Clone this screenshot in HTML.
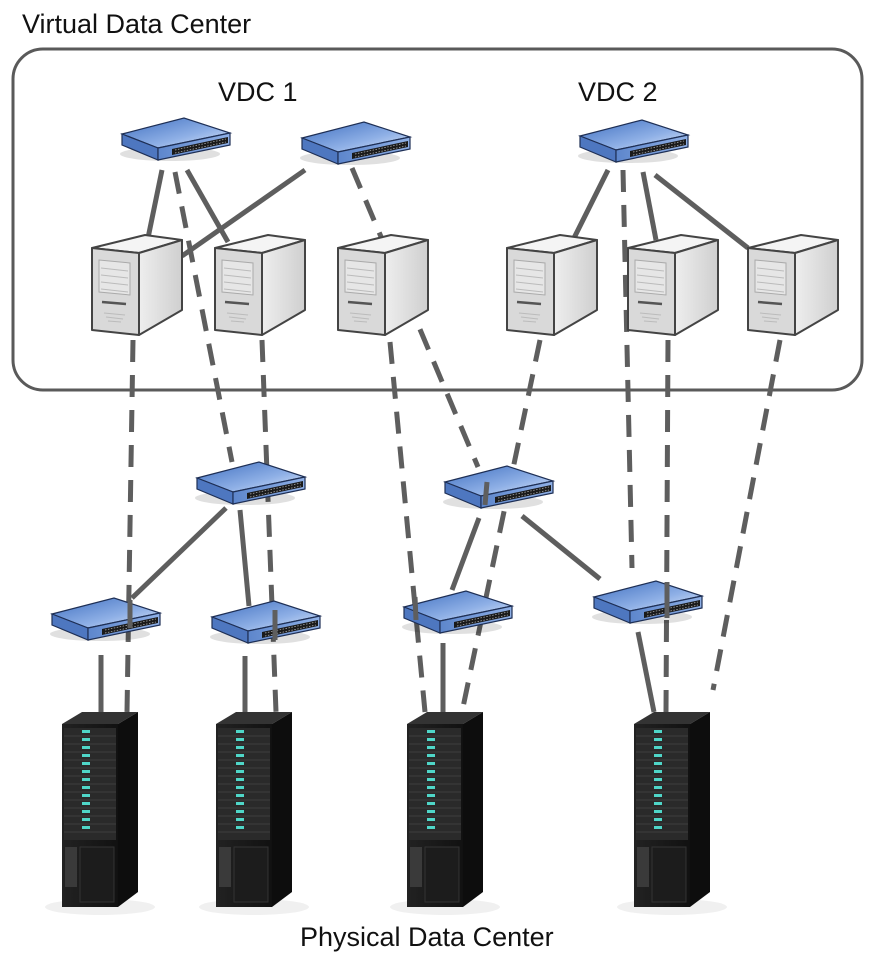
<!DOCTYPE html>
<html><head><meta charset="utf-8"><style>
html,body{margin:0;padding:0;background:#fff;}
svg{display:block;}
text{font-family:"Liberation Sans",sans-serif;fill:#111;}
</style></head><body>
<svg width="873" height="960" viewBox="0 0 873 960" xmlns="http://www.w3.org/2000/svg">
<defs>
<linearGradient id="swTop" x1="0" y1="0" x2="1" y2="1"><stop offset="0" stop-color="#3f6fc0"/><stop offset="0.6" stop-color="#8fb0e6"/><stop offset="1" stop-color="#dfe9fa"/></linearGradient>
<linearGradient id="swFront" x1="0" y1="0" x2="1" y2="0"><stop offset="0" stop-color="#5d86cc"/><stop offset="1" stop-color="#8fb0e6"/></linearGradient>
<linearGradient id="srvSide" x1="0" y1="0" x2="1" y2="0"><stop offset="0" stop-color="#eeeeee"/><stop offset="1" stop-color="#cfcfcf"/></linearGradient>
<linearGradient id="rkFront" x1="0" y1="0" x2="1" y2="0"><stop offset="0" stop-color="#222"/><stop offset="1" stop-color="#111"/></linearGradient>
<g id="sw">
  <ellipse cx="50" cy="36" rx="50" ry="7" fill="#000" opacity="0.12"/>
  <polygon points="2,16 64,0 110,15 38,30" fill="url(#swTop)" stroke="#1e2f55" stroke-width="1.2"/>
  <polygon points="2,16 38,30 38,42 2,27" fill="#4e77c0" stroke="#1e2f55" stroke-width="1.2"/>
  <polygon points="38,30 110,15 110,27 38,42" fill="url(#swFront)" stroke="#1e2f55" stroke-width="1.2"/>
  <polygon points="52,31 108,19 108,25 52,37" fill="#1a1a1a"/>
  <path d="M55,32 L106,21 M55,35 L106,24" stroke="#aaa" stroke-width="0.8" stroke-dasharray="1.5,1.5"/>
</g>
<g id="srv">
  <polygon points="0,13 53,0 90,5 47,18" fill="#f4f4f4" stroke="#444" stroke-width="2" stroke-linejoin="round"/>
  <polygon points="47,18 90,5 90,75 47,100" fill="url(#srvSide)" stroke="#444" stroke-width="2" stroke-linejoin="round"/>
  <polygon points="0,13 47,18 47,100 0,95" fill="#d9d9d9" stroke="#444" stroke-width="2" stroke-linejoin="round"/>
  <polygon points="7,25 38,28 38,60 7,57" fill="#e6e6e6" stroke="#aaa" stroke-width="1"/>
  <path d="M9,33 L36,36 M9,40 L36,43 M9,47 L36,50 M9,54 L36,57" stroke="#bbb" stroke-width="1"/>
  <path d="M10,67 L34,69" stroke="#555" stroke-width="2.5"/>
  <path d="M12,78 L33,80 M14,82 L31,84 M16,86 L29,87" stroke="#bbb" stroke-width="1"/>
</g>
<g id="rack">
  <ellipse cx="40" cy="195" rx="55" ry="8" fill="#000" opacity="0.06"/>
  <polygon points="2,12 22,0 78,0 58,12" fill="#333"/>
  <polygon points="58,12 78,0 78,180 58,195" fill="#0d0d0d"/>
  <rect x="2" y="12" width="56" height="183" fill="url(#rkFront)"/>
  <rect x="4" y="16" width="52" height="112" fill="#2a2a2a"/>
  <g stroke="#444" stroke-width="0.8">
    <path d="M4,24H56M4,32H56M4,40H56M4,48H56M4,56H56M4,64H56M4,72H56M4,80H56M4,88H56M4,96H56M4,104H56M4,112H56M4,120H56"/>
  </g>
  <g fill="#4fd6c8">
    <rect x="22" y="18" width="8" height="3"/><rect x="22" y="26" width="8" height="3"/><rect x="22" y="34" width="8" height="3"/><rect x="22" y="42" width="8" height="3"/><rect x="22" y="50" width="8" height="3"/><rect x="22" y="58" width="8" height="3"/><rect x="22" y="66" width="8" height="3"/><rect x="22" y="74" width="8" height="3"/><rect x="22" y="82" width="8" height="3"/><rect x="22" y="90" width="8" height="3"/><rect x="22" y="98" width="8" height="3"/><rect x="22" y="106" width="8" height="3"/><rect x="22" y="114" width="8" height="3"/>
  </g>
  <rect x="5" y="135" width="12" height="40" fill="#3a3a3a"/><rect x="20" y="135" width="34" height="55" fill="#1c1c1c" stroke="#333"/>
</g>
</defs>

<text x="22" y="33" font-size="27">Virtual Data Center</text>
<rect x="13" y="49" width="849" height="341" rx="30" fill="none" stroke="#5a5a5a" stroke-width="3"/>
<text x="218" y="101" font-size="27">VDC 1</text>
<text x="578" y="101" font-size="27">VDC 2</text>
<text x="300" y="946" font-size="27">Physical Data Center</text>

<g stroke="#5e5e5e" stroke-width="5" stroke-linecap="butt" fill="none">
  <!-- solid -->
  <line x1="162" y1="170" x2="148" y2="238"/>
  <line x1="187" y1="170" x2="228" y2="242"/>
  <line x1="305" y1="170" x2="182" y2="256"/>
  <line x1="608" y1="170" x2="572" y2="242"/>
  <line x1="643" y1="172" x2="656" y2="240"/>
  <line x1="655" y1="175" x2="748" y2="248"/>
  <line x1="226" y1="508" x2="132" y2="598"/>
  <line x1="240" y1="510" x2="249" y2="606"/>
  <line x1="479" y1="518" x2="452" y2="590"/>
  <line x1="522" y1="516" x2="600" y2="579"/>
  <line x1="101" y1="655" x2="101" y2="712"/>
  <line x1="245" y1="656" x2="245" y2="712"/>
  <line x1="443" y1="643" x2="443" y2="715"/>
  <line x1="638" y1="632" x2="654" y2="712"/>
  <!-- dashed -->
  <g stroke-dasharray="22,13">
    <line x1="175" y1="172" x2="232" y2="462"/>
    <line x1="352" y1="168" x2="478" y2="467"/>
    <line x1="623" y1="170" x2="632" y2="568"/>
    <line x1="133" y1="340" x2="127" y2="712"/>
    <line x1="262" y1="340" x2="276" y2="712"/>
    <line x1="390" y1="342" x2="425" y2="712"/>
    <line x1="540" y1="340" x2="462" y2="712"/>
    <line x1="668" y1="340" x2="666" y2="712"/>
    <line x1="780" y1="340" x2="713" y2="690"/>
  </g>
</g>

<!-- VDC switches and servers -->
<use href="#sw" x="120" y="118"/>
<use href="#sw" x="300" y="122"/>
<use href="#sw" x="578" y="120"/>
<use href="#srv" x="92" y="235"/>
<use href="#srv" x="215" y="235"/>
<use href="#srv" x="338" y="235"/>
<use href="#srv" x="507" y="235"/>
<use href="#srv" x="628" y="235"/>
<use href="#srv" x="748" y="235"/>

<!-- physical switches -->
<use href="#sw" x="195" y="462"/>
<use href="#sw" x="443" y="466"/>
<use href="#sw" x="50" y="598"/>
<use href="#sw" x="210" y="601"/>
<use href="#sw" x="402" y="591"/>
<use href="#sw" x="592" y="581"/>

<!-- redraw line segments passing over switches -->
<g stroke="#5e5e5e" stroke-width="5" fill="none">
  <line x1="130" y1="600" x2="130" y2="628"/>
  <line x1="275" y1="610" x2="275" y2="640"/>
  <line x1="415" y1="597" x2="416" y2="620"/>
  <line x1="487" y1="482" x2="485" y2="505"/>
  <line x1="667" y1="582" x2="667" y2="618"/>
</g>

<!-- racks -->
<use href="#rack" x="60" y="712"/>
<use href="#rack" x="214" y="712"/>
<use href="#rack" x="405" y="712"/>
<use href="#rack" x="632" y="712"/>
</svg>
</body></html>
